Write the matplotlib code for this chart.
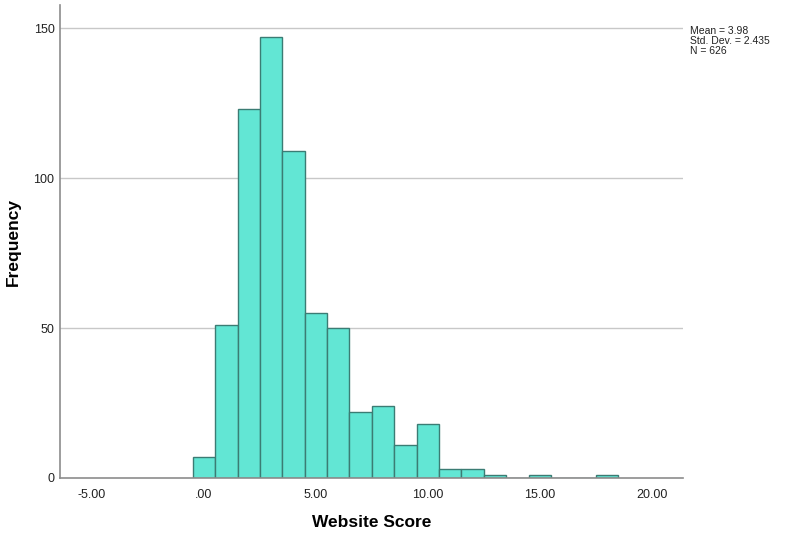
import numpy as np
import matplotlib
matplotlib.use('Agg')
import matplotlib.pyplot as plt

plt.rcParams['font.family'] = ['Liberation Sans', 'DejaVu Sans']

# histogram bins (centred on whole numbers) and counts
bin_centers = [0, 1, 2, 3, 4, 5, 6, 7, 8, 9, 10, 11, 12, 13, 14, 15, 16, 17, 18]
counts = [7, 51, 123, 147, 109, 55, 50, 22, 24, 11, 18, 3, 3, 1, 0, 1, 0, 0, 1]

x_ticks = [-5, 0, 5, 10, 15, 20]
x_tick_labels = ['-5.00', '.00', '5.00', '10.00', '15.00', '20.00']
y_ticks = [0, 50, 100, 150]

stats_text = 'Mean = 3.98\nStd. Dev. = 2.435\nN = 626'

fig = plt.figure(figsize=(7.85, 5.34), dpi=100)
ax = fig.add_axes([60 / 785, 56 / 534, 623 / 785, 473 / 534])

# grid lines behind the bars
for y in y_ticks[1:]:
    ax.axhline(y, color='#c8c8c8', linewidth=1.0, zorder=0)

ax.bar(bin_centers, counts, width=1.0, color='#62E6D4', edgecolor='#3B7C74',
       linewidth=1.0, zorder=2)

ax.set_xlim(-6.43, 21.4)
ax.set_ylim(0, 157.7)

ax.set_xticks(x_ticks)
ax.set_xticklabels(x_tick_labels)
ax.set_yticks(y_ticks)
ax.tick_params(axis='both', length=0, labelsize=9, colors='#222222')
ax.tick_params(axis='x', pad=8)
ax.tick_params(axis='y', pad=4)

for side in ['top', 'right']:
    ax.spines[side].set_visible(False)
for side in ['left', 'bottom']:
    ax.spines[side].set_color('#8c8c8c')
    ax.spines[side].set_linewidth(1.2)

ax.set_xlabel('Website Score', fontsize=12.5, fontweight='bold', labelpad=10)
ax.set_ylabel('Frequency', fontsize=12.5, fontweight='bold', labelpad=9)

fig.text(690 / 785, 1 - 26 / 534, stats_text, fontsize=7.5, va='top', ha='left',
         linespacing=1.0, color='#222222')

plt.savefig('out.png', dpi=100)
